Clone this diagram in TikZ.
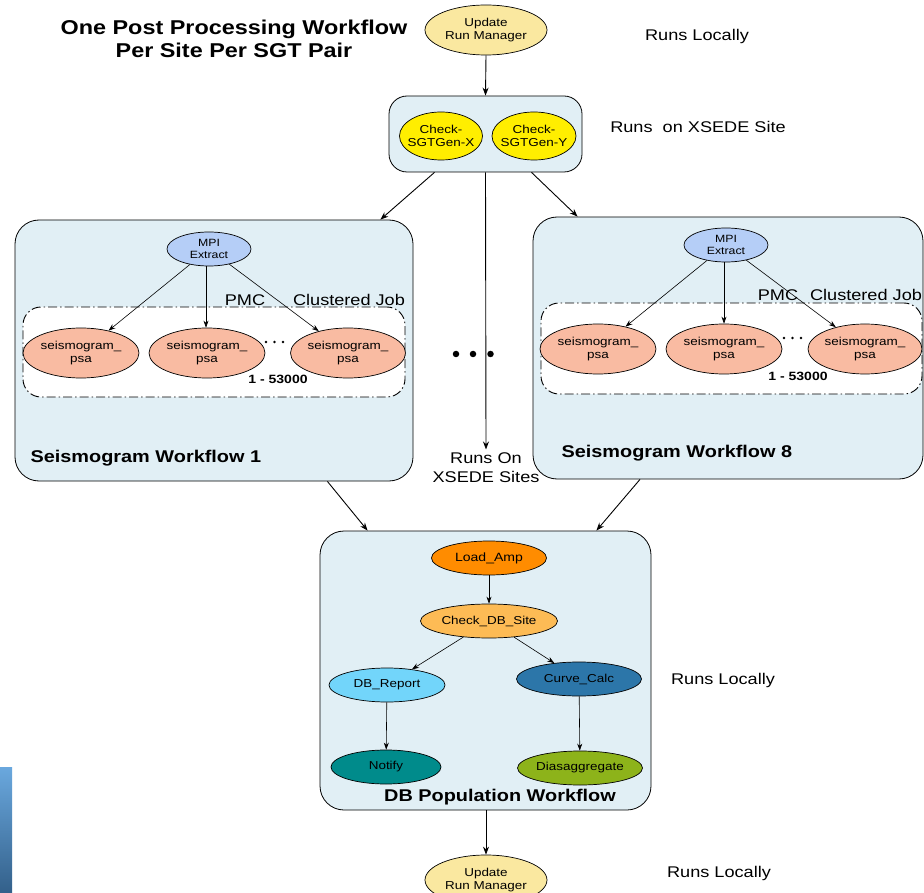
\documentclass[tikz,border=0pt]{standalone}
\usepackage{fontspec}
\setmainfont{Liberation Sans}[FakeStretch=1.17]
\usetikzlibrary{shapes.geometric,arrows.meta,calc}
\definecolor{boxfill}{HTML}{E1EFF5}
\definecolor{runmgr}{HTML}{FAE8A0}
\definecolor{chkyel}{HTML}{FFEE00}
\definecolor{mpic}{HTML}{B5CEF7}
\definecolor{seisc}{HTML}{F9BBA2}
\definecolor{loadc}{HTML}{FF8C00}
\definecolor{checkc}{HTML}{FDBB55}
\definecolor{reportc}{HTML}{72D5FA}
\definecolor{curvec}{HTML}{2C76A9}
\definecolor{notifyc}{HTML}{008B8B}
\definecolor{disaggc}{HTML}{8DB31A}
\definecolor{gradtop}{HTML}{6AA8DE}
\definecolor{gradbot}{HTML}{33608A}
\tikzset{
  job/.style={ellipse,draw=black,line width=0.7pt,inner sep=-12pt,align=center,
    font=\fontsize{10.5}{12.5}\selectfont},
  wfbox/.style={rectangle,draw=black,line width=0.8pt,fill=boxfill,rounded corners=24pt},
  clusterbox/.style={rectangle,draw=black,fill=white,line width=0.9pt,rounded corners=18pt,
    dash pattern=on 9pt off 3pt on 1.5pt off 3pt},
  arr/.style={-{Stealth[length=8pt,width=6pt]},line width=0.9pt},
  sarr/.style={-{Stealth[length=7pt,width=5pt]},line width=0.6pt},
  note/.style={font=\fontsize{15.5}{19}\selectfont,align=center},
  wftitle/.style={font=\bfseries\fontsize{17}{20}\selectfont},
  seisjob/.style={job,fill=seisc,minimum width=116pt,minimum height=50pt,font=\fontsize{11.5}{13.5}\selectfont},
  bigdot/.style={circle,fill=black,inner sep=0pt,minimum size=6.5pt},
  smalldot/.style={circle,fill=black,inner sep=0pt,minimum size=2.8pt},
}
\begin{document}
\begin{tikzpicture}[x=1pt,y=-1pt]
\useasboundingbox (0,0) rectangle (924,893);
% gradient strip
\shade[top color=gradtop,bottom color=gradbot] (0,767) rectangle (12,893);

% title
\node[font=\bfseries\fontsize{20}{23}\selectfont,align=center] (title) at (234,39) {One Post Processing Workflow\\Per Site Per SGT Pair};

% top
\node[job,fill=runmgr,minimum width=122pt,minimum height=50pt,font=\fontsize{11.5}{13.5}\selectfont] (rm1) at (486,30) {Update\\Run Manager};
\node[note] (rl1) at (697,36) {Runs Locally};

\node[wfbox,rounded corners=18pt,minimum width=193pt,minimum height=76pt] (chk) at (485.5,134) {};
\node[job,fill=chkyel,minimum width=83pt,minimum height=48pt,font=\fontsize{11.5}{13.5}\selectfont] (cx) at (441,136) {Check-\\SGTGen-X};
\node[job,fill=chkyel,minimum width=84pt,minimum height=48pt,font=\fontsize{11.5}{13.5}\selectfont] (cy) at (534,136) {Check-\\SGTGen-Y};
\node[note] (rx) at (698,127) {Runs~~on XSEDE Site};

\draw[arr] (rm1.south) -- (chk.north);

% left workflow
\node[wfbox,minimum width=398pt,minimum height=261pt] (wf1) at (214,350.5) {};
\node[clusterbox,minimum width=382pt,minimum height=90pt] (cl1) at (214,352) {};
\node[job,fill=mpic,minimum width=84pt,minimum height=34pt] (mpi1) at (209,249) {MPI\\Extract};
\node[seisjob] (s11) at (81,353) {seismogram\_\\psa};
\node[seisjob] (s12) at (207,353) {seismogram\_\\psa};
\node[seisjob,minimum width=115pt] (s13) at (348,353) {seismogram\_\\psa};
\node[note] (pmc1) at (245,300) {PMC};
\node[note] (cj1) at (349,300) {Clustered Job};
\node[smalldot] (d1a) at (266,342) {};
\node[smalldot] (d1b) at (274.5,342) {};
\node[smalldot] (d1c) at (283,342) {};
\node[font=\bfseries\fontsize{12}{14}\selectfont] (n1) at (278,379) {1 - 53000};
\node[wftitle,anchor=west] (t1) at (27,458) {Seismogram Workflow 1};
\draw[sarr] (mpi1) -- (s11);
\draw[sarr] (mpi1.south) ++(-3,0) coordinate (m1s) (m1s) -- (s12.north -| m1s);
\draw[sarr] (mpi1) -- (s13);

% right workflow
\node[wfbox,minimum width=390pt,minimum height=262pt] (wf8) at (728,348) {};
\node[clusterbox,minimum width=381pt,minimum height=91pt] (cl8) at (731.5,348.5) {};
\node[job,fill=mpic,minimum width=84pt,minimum height=34pt] (mpi8) at (726,245) {MPI\\Extract};
\node[seisjob] (s81) at (598,349) {seismogram\_\\psa};
\node[seisjob] (s82) at (724,349) {seismogram\_\\psa};
\node[seisjob,minimum width=114pt] (s83) at (865,349) {seismogram\_\\psa};
\node[note] (pmc8) at (778,295) {PMC};
\node[note] (cj8) at (866,295) {Clustered Job};
\node[smalldot] (d8a) at (784,338) {};
\node[smalldot] (d8b) at (792.5,338) {};
\node[smalldot] (d8c) at (801,338) {};
\node[font=\bfseries\fontsize{12}{14}\selectfont] (n8) at (798,376) {1 - 53000};
\node[wftitle,anchor=west] (t8) at (558,453) {Seismogram Workflow 8};
\draw[sarr] (mpi8) -- (s81);
\draw[sarr] (mpi8.south) ++(-2,0) coordinate (m8s) (m8s) -- (s82.north -| m8s);
\draw[sarr] (mpi8) -- (s83);

% middle
\node[bigdot] (dA) at (456,354) {};
\node[bigdot] (dB) at (473,354) {};
\node[bigdot] (dC) at (490.5,354) {};
\node[note] (rxs) at (486,468) {Runs On\\XSEDE Sites};
\draw[arr] ([xshift=-51pt]chk.south) -- ([xshift=-33pt]wf1.north east);
\draw[arr] (chk.south) -- (rxs.north);
\draw[arr] ([xshift=46pt]chk.south) -- ([xshift=45pt]wf8.north west);

% DB workflow
\node[wfbox,minimum width=331pt,minimum height=279pt] (db) at (485.5,670.5) {};
\node[job,fill=loadc,minimum width=115pt,minimum height=34pt,font=\fontsize{12}{14}\selectfont] (la) at (489,558) {Load\_Amp};
\node[job,fill=checkc,minimum width=137pt,minimum height=34pt,font=\fontsize{11.5}{14}\selectfont] (cd) at (489,621) {Check\_DB\_Site};
\node[job,fill=reportc,minimum width=116pt,minimum height=34pt,font=\fontsize{11.5}{14}\selectfont] (dr) at (387,685) {DB\_Report};
\node[job,fill=curvec,minimum width=125pt,minimum height=34pt,font=\fontsize{11.5}{14}\selectfont] (cc) at (579,679) {Curve\_Calc};
\node[job,fill=notifyc,minimum width=110pt,minimum height=34pt,font=\fontsize{11.5}{14}\selectfont] (nt) at (386,767) {Notify};
\node[job,fill=disaggc,minimum width=125pt,minimum height=34pt,font=\fontsize{11.5}{14}\selectfont] (dg) at (580,768) {Diasaggregate};
\node[wftitle] (tdb) at (500,797) {DB Population Workflow};
\draw[sarr] (la) -- (cd);
\draw[sarr] (cd) -- (dr);
\draw[sarr] (cd) -- (cc);
\draw[sarr] (dr) -- (nt);
\draw[sarr] (cc) -- (dg);
\node[note] (rl2) at (723,680) {Runs Locally};

\draw[arr] ([xshift=-86pt]wf1.south east) -- ([xshift=48pt]db.north west);
\draw[arr] ([xshift=-88pt]wf8.south) -- ([xshift=-55pt]db.north east);

% bottom
\node[job,fill=runmgr,minimum width=122pt,minimum height=50pt,font=\fontsize{11.5}{13.5}\selectfont] (rm2) at (486,880) {Update\\Run Manager};
\draw[arr] (db.south -| rm2) -- (rm2.north);
\node[note] (rl3) at (719,873) {Runs Locally};
\end{tikzpicture}
\end{document}
